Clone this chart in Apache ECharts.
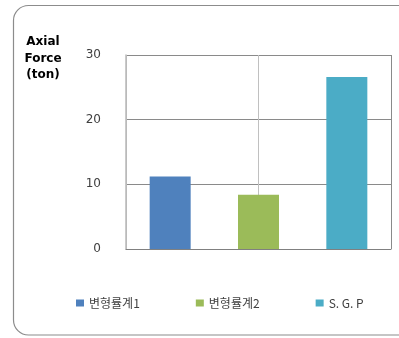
<!DOCTYPE html>
<html><head><meta charset="utf-8">
<script src="https://cdn.jsdelivr.net/npm/echarts@6/dist/echarts.min.js"></script>
<style>html,body{margin:0;padding:0;background:#fff}#c{width:399px;height:338px}</style>
</head><body><div id="c"></div>
<script>
const categories = ['A', 'B', 'C'];
const seriesNames = ['변형률계1', '변형률계2', 'S. G. P'];
const values = [11.2, 8.4, 26.6];
const colors = ['#4F81BD', '#9BBB59', '#4BACC6'];
const yTicks = [0, 10, 20, 30];

const chart = echarts.init(document.getElementById('c'));
const series = seriesNames.map((name, i) => ({
  name: name,
  type: 'bar',
  stack: 'all',
  barWidth: 41,
  itemStyle: { color: colors[i] },
  data: categories.map((c, j) => (j === i ? values[i] : '-'))
}));
series.push({ type: 'line', xAxisIndex: 1, data: [], silent: true });

chart.setOption({
  animation: false,
  color: colors,
  grid: { left: 126, right: 8, top: 55, bottom: 89 },
  graphic: [
    { type: 'rect', shape: { x: 13.5, y: 5.5, width: 420, height: 329.5, r: 15 },
      style: { fill: 'none', stroke: '#8c8c8c', lineWidth: 1.2 }, z: 0 },
    { type: 'text', x: 43, y: 34,
      style: { text: 'Axial\nForce\n(ton)', font: 'bold 12px "DejaVu Sans"', fill: '#000', align: 'center', verticalAlign: 'top', lineHeight: 16.5 } }
  ],
  legend: {
    left: 71, top: 292, itemWidth: 8, itemHeight: 7, itemGap: 56,
    icon: 'rect',
    textStyle: { fontFamily: '"Noto Sans CJK KR", sans-serif', fontSize: 12, color: '#404040', padding: [3, 0, 0, 0] },
    data: seriesNames
  },
  xAxis: [
    { type: 'category', data: categories, axisLabel: { show: false }, axisTick: { show: false },
      axisLine: { lineStyle: { color: '#808080' } } },
    { type: 'value', min: 0, max: 2, interval: 1, position: 'bottom', axisLabel: { show: false },
      axisTick: { show: false }, axisLine: { show: false },
      splitLine: { show: true, lineStyle: { color: ['#c0c0c0', '#c0c0c0', '#8a8a8a'] } } }
  ],
  yAxis: {
    type: 'value', min: 0, max: 30, interval: 10,
    axisLine: { show: true, lineStyle: { color: '#b8b8b8', width: 1.5 } },
    axisTick: { show: false },
    axisLabel: { margin: 25, fontSize: 12, color: '#404040', fontFamily: '"DejaVu Sans"' },
    splitLine: { lineStyle: { color: '#8a8a8a' } }
  },
  series: series
});
</script></body></html>
